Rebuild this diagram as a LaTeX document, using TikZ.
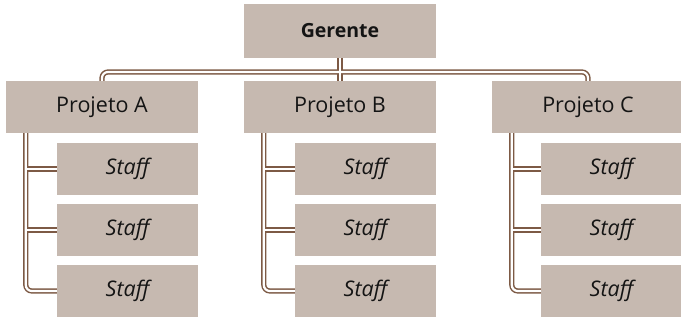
\documentclass[tikz,border=0pt]{standalone}
\usepackage{fontspec}
\setmainfont{Open Sans}
\usetikzlibrary{calc,backgrounds}
\definecolor{boxfill}{RGB}{198,185,176}
\definecolor{wirebrown}{RGB}{125,90,69}
\definecolor{inktext}{RGB}{20,20,20}
\tikzset{
  x=1pt, y=-1pt,
  orgbox/.style={fill=boxfill, draw=none, inner sep=0pt, text=inktext,
    font=\fontsize{21.5}{24}\selectfont},
  headbox/.style={orgbox, minimum width=192pt, minimum height=54pt,
    font=\fontsize{19.5}{22}\selectfont\bfseries},
  projbox/.style={orgbox, minimum width=192pt, minimum height=52pt},
  staffbox/.style={orgbox, minimum width=141pt, minimum height=52pt,
    font=\fontsize{21.5}{24}\selectfont\itshape},
  wireout/.style={draw=wirebrown, line width=5.2pt, rounded corners=6pt},
  wirein/.style={draw=white, line width=2.2pt, rounded corners=6pt},
}
\newcommand\orgwires[1]{%
  \draw[#1] (G.south) -- (PB.north);
  \draw[#1] (PA.north) |- (bar) -| (PC.north);
  \foreach \p in {A,B,C}{
    \draw[#1] (trunk\p) |- (S\p3.west);
    \draw[#1] (trunk\p |- S\p1.west) -- (S\p1.west);
    \draw[#1] (trunk\p |- S\p2.west) -- (S\p2.west);
  }%
}
\begin{document}
\begin{tikzpicture}
\useasboundingbox (0,0) rectangle (681,320);
% top level
\node[headbox] (G) at (340,31) {Gerente};
% projects
\node[projbox] (PA) at (102,107) {Projeto A};
\node[projbox] (PB) at (340,107) {Projeto B};
\node[projbox] (PC) at (588,107) {Projeto C};
% staff columns
\foreach \p/\x in {A/127.5,B/365.5,C/611.5}{
  \node[staffbox] (S\p1) at (\x,169) {Staff};
  \node[staffbox] (S\p2) at (\x,230) {Staff};
  \node[staffbox] (S\p3) at (\x,291) {Staff};
}
% connector anchor points
\coordinate (bar) at (340,72);
\foreach \p in {A,B,C}{
  \coordinate (trunk\p) at ($(P\p.south west)+(20,0)$);
}
% double-line connectors behind the boxes
\begin{scope}[on background layer]
  \orgwires{wireout}
  \orgwires{wirein}
\end{scope}
\end{tikzpicture}
\end{document}
